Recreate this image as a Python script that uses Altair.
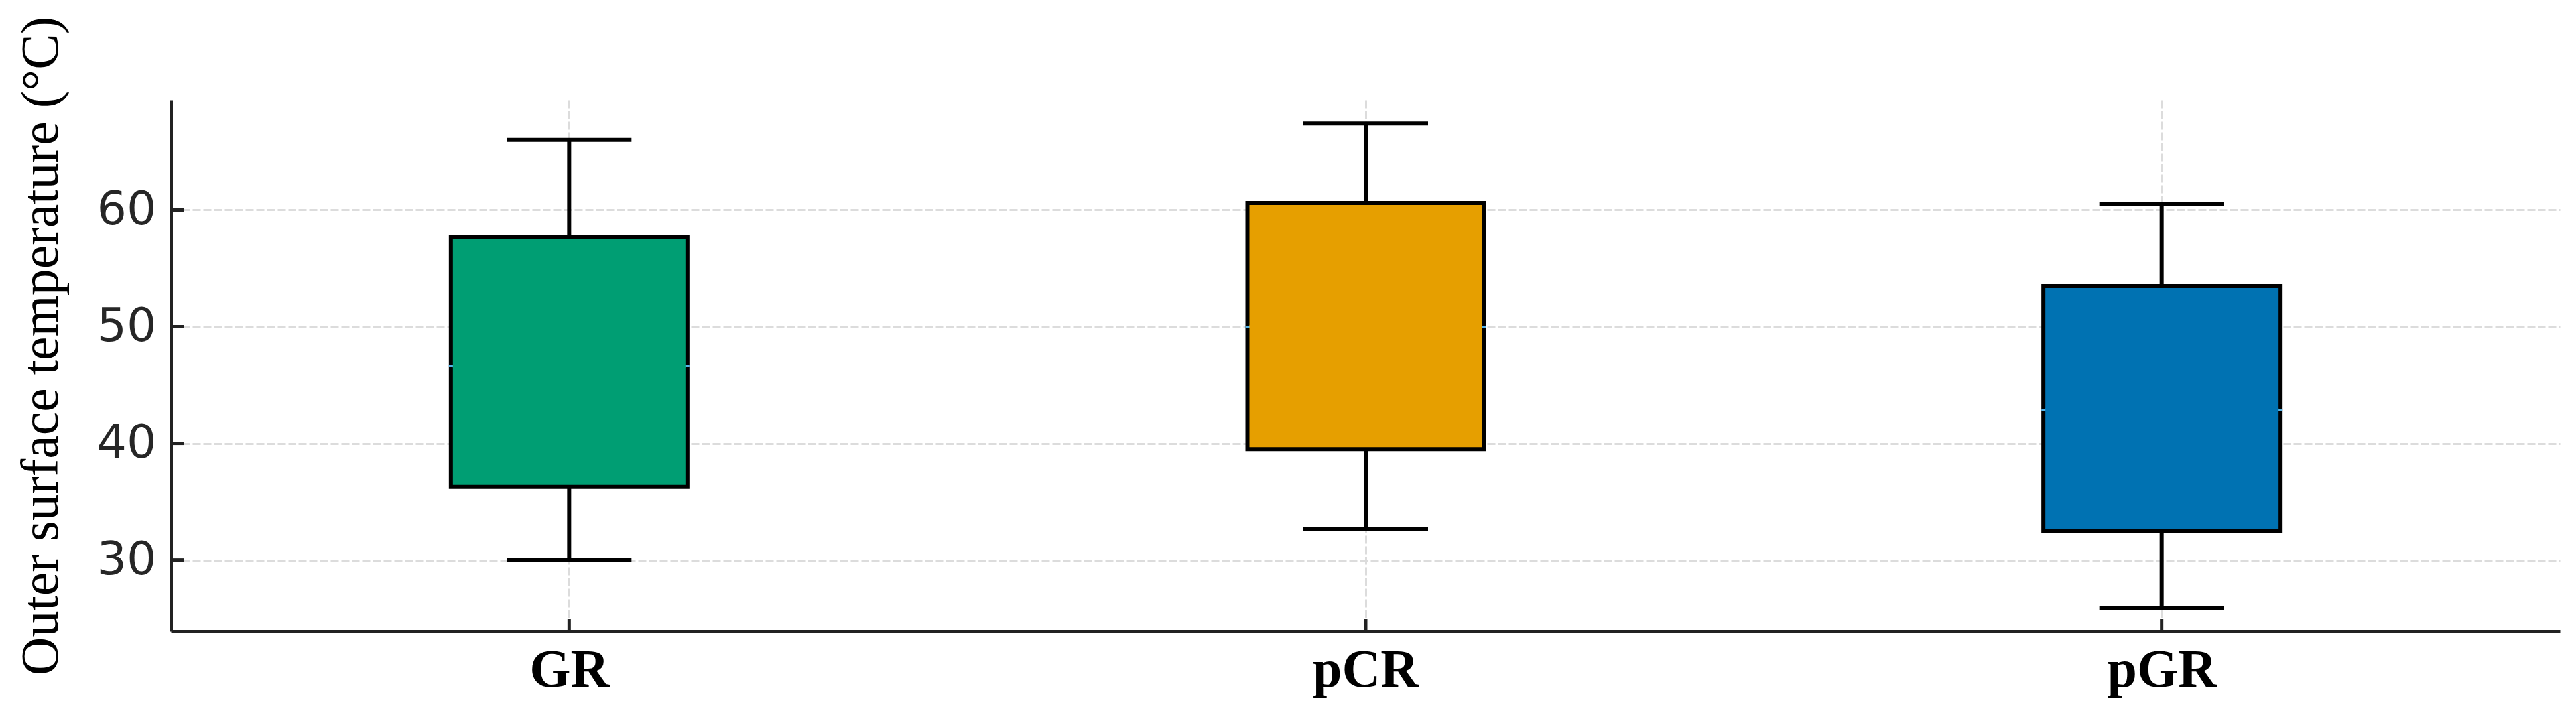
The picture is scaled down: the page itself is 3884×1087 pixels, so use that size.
import altair as alt
import pandas as pd

# ---- data ----
categories = ["GR", "pCR", "pGR"]
whisker_low = [30.0, 32.7, 25.9]
q1 = [36.3, 39.5, 32.5]
median = [46.6, 50.0, 42.9]
q3 = [57.7, 60.6, 53.5]
whisker_high = [66.0, 67.4, 60.5]
box_colors = ["#009E73", "#E69F00", "#0072B2"]
y_ticks = [30, 40, 50, 60]
y_domain = [23.9, 69.4]

df = pd.DataFrame({
    "cat": categories, "lo": whisker_low, "q1": q1, "med": median,
    "q3": q3, "hi": whisker_high,
})
ticks_df = pd.DataFrame({"v": y_ticks})

W, H = 3602, 801
LW = 6

xscale = alt.Scale(domain=categories, paddingInner=0, paddingOuter=0)
yscale = alt.Scale(domain=y_domain, nice=False, zero=False)
cscale = alt.Scale(domain=categories, range=box_colors)

xaxis = alt.Axis(
    title=None, bandPosition=0.5, domain=True, domainColor="#222222", domainWidth=5,
    ticks=False, grid=True, gridDash=[12, 4], gridColor="#dcdcdc", gridWidth=3,
    labelFont="Liberation Serif", labelFontSize=80, labelFontWeight="bold",
    labelColor="#000000", labelPadding=19, labelAngle=0,
)
yaxis = alt.Axis(
    title="Outer surface temperature (°C)", values=y_ticks, domain=True,
    domainColor="#222222", domainWidth=5, ticks=False, grid=True,
    gridDash=[12, 4], gridColor="#dcdcdc", gridWidth=3,
    labelFont="DejaVu Sans", labelFontSize=70, labelColor="#262626", labelPadding=23,
    titleFont="Liberation Serif", titleFontSize=80, titleFontWeight="normal",
    titleColor="#000000", titleAngle=270, titleAlign="center",
    titleBaseline="alphabetic", titleX=-172, titleY=370,
)


def X():
    return alt.X("cat:N", scale=xscale, axis=xaxis, sort=categories)


def Y(field):
    return alt.Y(f"{field}:Q", scale=yscale, axis=yaxis)


base = alt.Chart(df)

whisk_lo = base.mark_rule(color="#000000", strokeWidth=LW, opacity=1).encode(
    x=X(), y=Y("lo"), y2="q1:Q")
whisk_hi = base.mark_rule(color="#000000", strokeWidth=LW, opacity=1).encode(
    x=X(), y=Y("q3"), y2="hi:Q")
cap_lo = base.mark_tick(color="#000000", size=188, thickness=LW, opacity=1).encode(
    x=X(), y=Y("lo"))
cap_hi = base.mark_tick(color="#000000", size=188, thickness=LW, opacity=1).encode(
    x=X(), y=Y("hi"))
box = base.mark_bar(size=357, stroke="#000000", strokeWidth=LW, opacity=1).encode(
    x=X(), y=Y("q1"), y2="q3:Q",
    color=alt.Color("cat:N", scale=cscale, legend=None))
med_line = base.mark_tick(color="#56B4E9", size=363, thickness=3, opacity=1).encode(
    x=X(), y=Y("med"))
med_cover = base.mark_tick(size=351, thickness=5, opacity=1).encode(
    x=X(), y=Y("med"),
    color=alt.Color("cat:N", scale=cscale, legend=None))

ytick_marks = alt.Chart(ticks_df).mark_rule(color="#222222", strokeWidth=5, opacity=1).encode(
    y=Y("v"), x=alt.value(0), x2=alt.value(19))
xtick_marks = base.mark_rule(color="#222222", strokeWidth=5, opacity=1).encode(
    x=X(), y=alt.value(H), y2=alt.value(H - 19))

chart = alt.layer(
    whisk_lo, whisk_hi, cap_lo, cap_hi, box, med_line, med_cover,
    ytick_marks, xtick_marks,
).properties(
    width=W, height=H,
    autosize=alt.AutoSizeParams(type="none"),
    padding={"left": 250, "top": 143, "right": 12, "bottom": 120},
    background="#ffffff",
).configure_view(stroke=None)

chart.save("out.html", embed_options={"renderer": "svg", "actions": False})
